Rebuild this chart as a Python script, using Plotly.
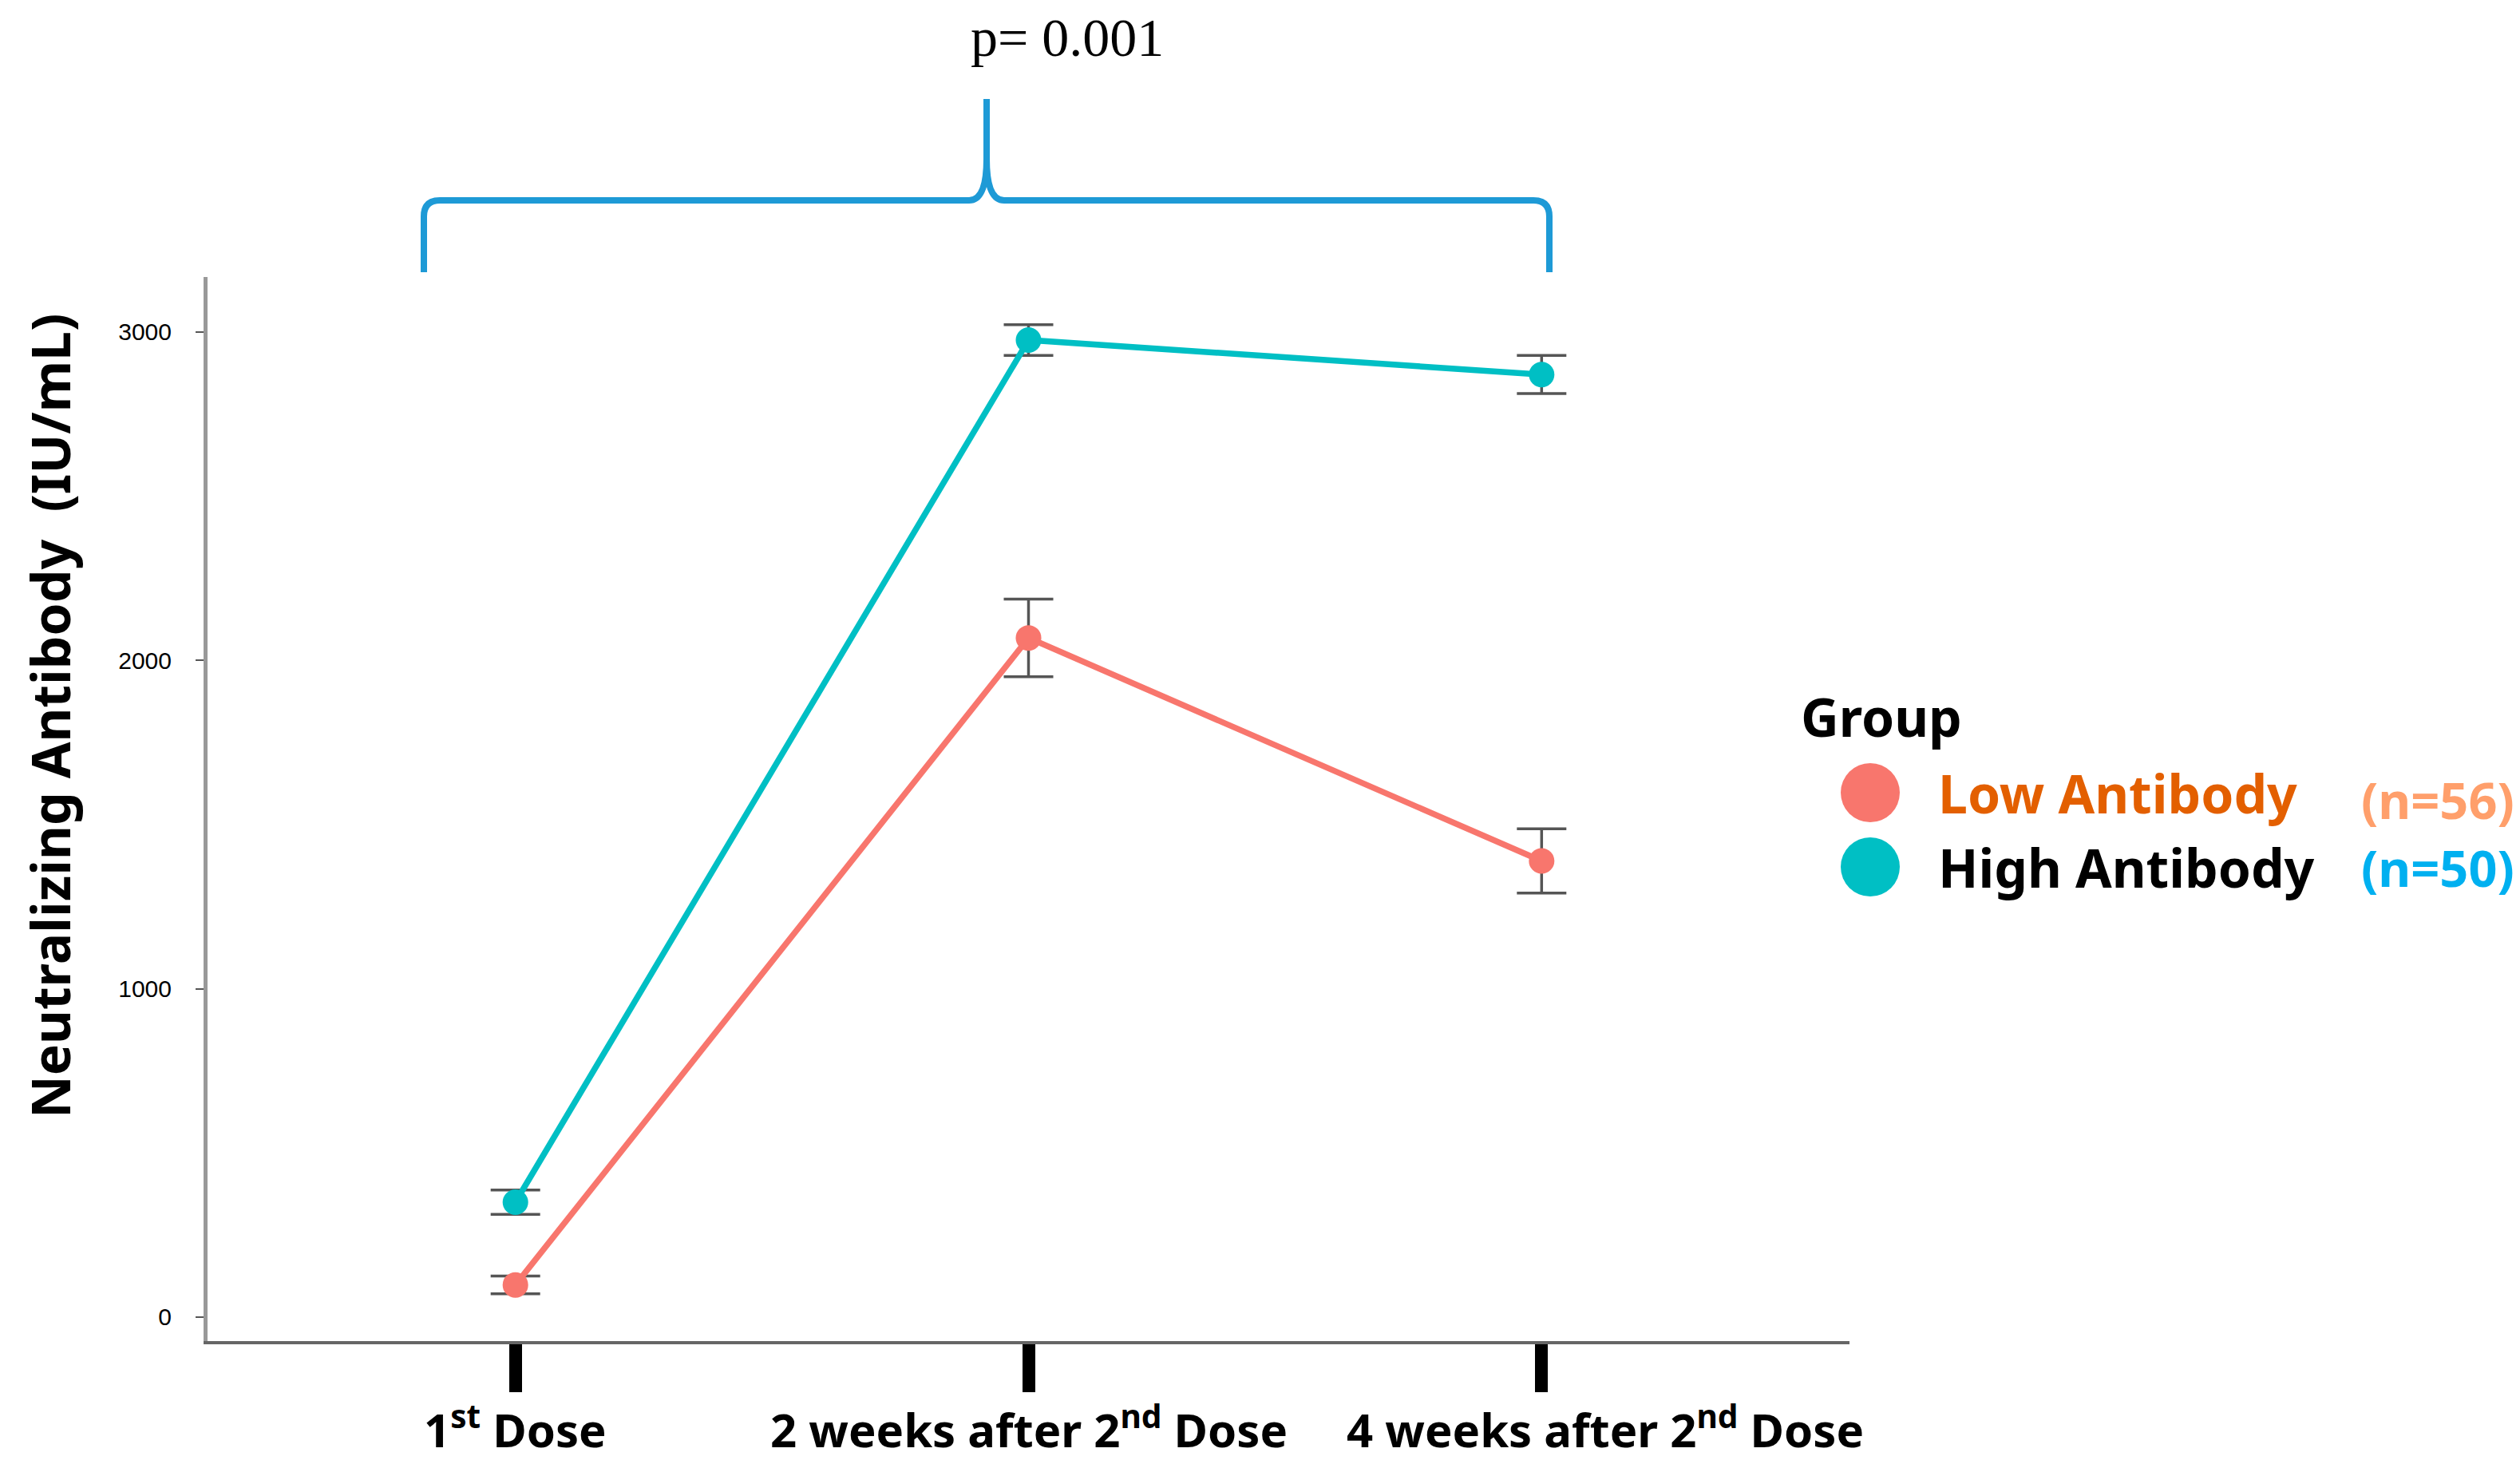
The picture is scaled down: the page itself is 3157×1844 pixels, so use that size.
import plotly.graph_objects as go

# ---------------- data ----------------
timepoints = ["1st Dose", "2 weeks after 2nd Dose", "4 weeks after 2nd Dose"]
tick_labels = ["1<sup>st</sup> Dose", "2 weeks after 2<sup>nd</sup> Dose", "4 weeks after 2<sup>nd</sup> Dose"]
low_mean = [98, 2068, 1389]
low_err = [27, 118, 98]
high_mean = [350, 2975, 2870]
high_err = [37, 47, 58]
y_ticks = [0, 1000, 2000, 3000]
p_text = "p= 0.001"

W, H = 3157, 1844
DX, DY = -6, -9
ML, MR, MT, MB = 258 + DX, 842 - DX, 348 + DY, 163 - DY
PW, PH = W - ML - MR, H - MT - MB


def px(x):
    return (x + DX - ML) / PW


def py(y):
    return (H - MB - (y + DY)) / PH


LOW_C = "#F8766D"
HIGH_C = "#00BFC4"
ERR_C = "#555555"

fig = go.Figure()
for name, mean, err, col in [("Low Antibody", low_mean, low_err, LOW_C),
                             ("High Antibody", high_mean, high_err, HIGH_C)]:
    fig.add_trace(go.Scatter(
        x=timepoints, y=mean, name=name, mode="lines+markers",
        line=dict(color=col, width=7.5),
        marker=dict(color=col, size=32),
        error_y=dict(type="data", array=err, visible=True, color=ERR_C,
                     thickness=3.5, width=31),
        showlegend=False,
    ))

fig.update_layout(
    width=W, height=H,
    margin=dict(l=ML, r=MR, t=MT, b=MB, autoexpand=False),
    paper_bgcolor="white", plot_bgcolor="white",
    font=dict(family="Noto Sans", color="black"),
)

fig.update_xaxes(
    type="category", range=[-0.6, 2.6],
    tickvals=timepoints, showticklabels=False,
    showline=True, linecolor="#666666", linewidth=4,
    ticks="outside", ticklen=60, tickwidth=16, tickcolor="black",
    showgrid=False, zeroline=False, automargin=False,
)
fig.update_yaxes(
    range=[-73, 3167], tickvals=y_ticks,
    showline=True, linecolor="#999999", linewidth=5,
    ticks="outside", ticklen=10, tickwidth=2, tickcolor="#555555",
    tickfont=dict(family="Liberation Sans", size=30, color="black"),
    showgrid=False, zeroline=False, ticklabelstandoff=24, automargin=False,
)

# x category labels, placed at the category positions
label_shift = [0, 0, 80]
for cat, txt, sh in zip(timepoints, tick_labels, label_shift):
    fig.add_annotation(
        text=f"<b>{txt}</b>", xref="x", yref="paper", x=cat, y=py(1789),
        xanchor="center", yanchor="middle", showarrow=False, xshift=sh,
        font=dict(family="Noto Sans", size=58, color="black"),
    )

# y-axis title
fig.add_annotation(
    text="<b>Neutralizing Antibody  (IU/mL)</b>", textangle=-90,
    xref="paper", yref="paper", x=px(60), y=py(898),
    xanchor="center", yanchor="middle", showarrow=False,
    font=dict(family="Noto Sans", size=66, color="black"),
)

# brace with p-value
BLUE = "#1E9AD6"
pts = [
    ("M", 529, 342), ("L", 529, 272), ("Q", 529, 252, 549, 252),
    ("L", 1212, 252), ("Q", 1234, 252, 1234, 200), ("L", 1234, 125),
    ("L", 1234, 200), ("Q", 1234, 252, 1256, 252), ("L", 1919, 252),
    ("Q", 1939, 252, 1939, 272), ("L", 1939, 342),
]
path = ""
for p in pts:
    if p[0] == "Q":
        path += f"Q{px(p[1]):.5f},{py(p[2]):.5f} {px(p[3]):.5f},{py(p[4]):.5f} "
    else:
        path += f"{p[0]}{px(p[1]):.5f},{py(p[2]):.5f} "
fig.add_shape(type="path", path=path.strip(), xref="paper", yref="paper",
              line=dict(color=BLUE, width=8))
fig.add_annotation(
    text=p_text, xref="paper", yref="paper", x=px(1335), y=py(48),
    xanchor="center", yanchor="middle", showarrow=False,
    font=dict(family="Liberation Serif", size=68, color="black"),
)

# legend (drawn manually)
fig.add_annotation(
    text="<b>Group</b>", xref="paper", yref="paper", x=px(2252), y=py(898),
    xanchor="left", yanchor="middle", showarrow=False,
    font=dict(family="Noto Sans", size=66, color="black"),
)
legend_items = [
    ("Low Antibody", "(n=56)", LOW_C, "#E35F00", "#FF9F6B", 994, 1003),
    ("High Antibody", "(n=50)", HIGH_C, "black", "#00B0F0", 1087, 1087),
]
R = 37
for label, ntxt, mcol, tcol, ncol, yc, yn in legend_items:
    fig.add_shape(type="circle", xref="paper", yref="paper",
                  x0=px(2341 - R), x1=px(2341 + R), y0=py(yc + R), y1=py(yc - R),
                  fillcolor=mcol, line=dict(width=0))
    fig.add_annotation(
        text=f"<b>{label}</b>", xref="paper", yref="paper", x=px(2424), y=py(yc),
        xanchor="left", yanchor="middle", showarrow=False,
        font=dict(family="Noto Sans", size=66, color=tcol),
    )
    fig.add_annotation(
        text=f"<b>{ntxt}</b>", xref="paper", yref="paper", x=px(3150), y=py(yn),
        xanchor="right", yanchor="middle", showarrow=False,
        font=dict(family="Noto Sans", size=63, color=ncol),
    )

fig.write_html("out.html")
